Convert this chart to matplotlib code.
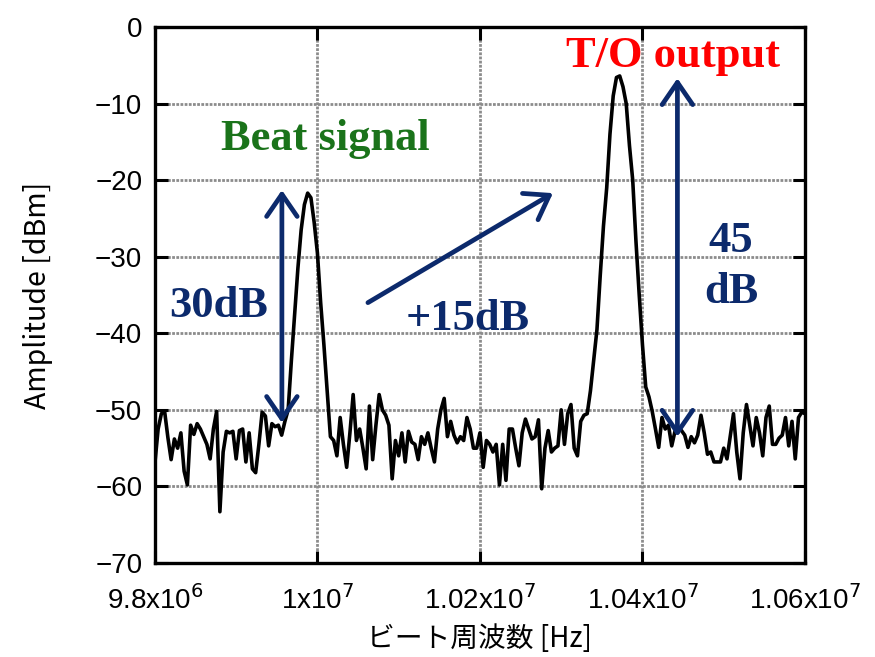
import numpy as np
import matplotlib.pyplot as plt

# spectrum: 201 bins from 9.8 MHz to 10.6 MHz (4 kHz step)
f_start = 9.8e6
f_stop = 1.06e7
amplitude = [
    -57, -52.5, -50.5, -50.2, -53.6, -56.5, -53.8, -55, -53, -58,
    -59.8, -52, -53.2, -51.8, -52.5, -53.5, -54.5, -56.4, -52.5, -50.2,
    -63.3, -55.5, -52.8, -53, -52.8, -56.4, -52.7, -52.5, -56.8, -53,
    -57.7, -58.2, -54.5, -50.3, -50.8, -54.7, -51.8, -52.2, -52, -53.3,
    -51.5, -50, -43.5, -37.5, -31.5, -26.5, -23.2, -21.7, -22.3, -25.5,
    -29.5, -36, -41.5, -47.5, -53.5, -54, -56, -51, -54.5, -57.5,
    -53, -48, -54, -52.5, -55, -57.7, -49.5, -56.5, -52, -48,
    -50, -50.7, -52, -59, -54, -56, -53, -56.8, -52.8, -54.2,
    -54.5, -56.5, -53.5, -54.5, -53, -55, -56.8, -52.5, -50, -48.5,
    -53.5, -51.5, -53.3, -54.3, -53.5, -54, -51, -52.5, -55, -55,
    -53, -57.5, -54, -54.5, -55.5, -54.5, -59.8, -54.5, -59.2, -52.5,
    -52.5, -55, -57.3, -53, -51.2, -52.5, -53.8, -53.5, -51.3, -60.3,
    -55, -52.7, -55.5, -55, -54.7, -50, -54.5, -50.5, -49.3, -55,
    -56, -51.5, -50.7, -50.5, -47.5, -43.5, -39.5, -32.5, -26, -21,
    -14, -9, -6.6, -6.4, -7.8, -10, -15.5, -20, -28, -35,
    -41.5, -47, -48.3, -50.2, -52.5, -54.9, -51, -52.5, -52, -54.7,
    -52.8, -52.3, -52.7, -53.3, -54.9, -53.5, -54.3, -53.3, -50.7, -53,
    -55.8, -55.5, -56.8, -56.8, -56.8, -55, -56.4, -53.5, -50.5, -55.5,
    -59, -53, -49.3, -52, -54.7, -51, -53, -56, -51, -49.5,
    -54.5, -54.5, -53.7, -53.3, -51, -54.7, -51.5, -56.4, -51, -50.3,
    -50.5,
]
freq = np.linspace(f_start, f_stop, len(amplitude))

xticks = [9.8e6, 1.0e7, 1.02e7, 1.04e7, 1.06e7]
xtick_labels = [r'9.8x10$^{6}$', r'1x10$^{7}$', r'1.02x10$^{7}$',
                r'1.04x10$^{7}$', r'1.06x10$^{7}$']
yticks = [0, -10, -20, -30, -40, -50, -60, -70]

navy = '#0c2a6c'
tick_font = ['Liberation Sans Narrow', 'Liberation Sans', 'DejaVu Sans']
label_font = ['Noto Sans CJK JP', 'DejaVu Sans']

fig = plt.figure(figsize=(8.75, 6.57), dpi=100)
ax = fig.add_axes([0.177, 0.143, 0.743, 0.816])

ax.plot(freq, amplitude, color='black', lw=2.6, zorder=3)

ax.set_xlim(f_start, f_stop)
ax.set_ylim(-70, 0)
ax.set_xticks(xticks)
ax.set_xticklabels(xtick_labels, family=tick_font, fontsize=20)
ax.set_yticks(yticks)
ax.set_yticklabels([str(v).replace('-', '\u2212') for v in yticks],
                   family=tick_font, fontsize=20)
ax.tick_params(direction='in', length=9, width=2.2, top=True, right=True)
ax.tick_params(axis='x', pad=16)
ax.tick_params(axis='y', pad=9)
ax.grid(True, color='#8c8c8c', ls=(0, (1, 0.5)), lw=2.0)
for s in ax.spines.values():
    s.set_linewidth(2.4)

ax.set_xlabel('ビート周波数 [Hz]', family=label_font, fontsize=20, labelpad=6)
ax.set_ylabel('Amplitude [dBm]', family=label_font, fontsize=20.5, labelpad=30)

# annotations
serif = dict(family='Liberation Serif', weight='bold', fontsize=32)
ax.text(1.00092e7, -16.1, 'Beat signal', color='#1a731a', ha='center', va='baseline', **serif)
ax.text(1.04375e7, -5.2, 'T/O output', color='#ff0000', ha='center', va='baseline', **serif)
ax.text(9.8788e6, -37.9, '30dB', color=navy, ha='center', va='baseline', **serif)
ax.text(1.01852e7, -39.6, '+15dB', color=navy, ha='center', va='baseline', **serif)
ax.text(1.05089e7, -29.4, '45', color=navy, ha='center', va='baseline', **serif)
ax.text(1.05089e7, -36.0, 'dB', color=navy, ha='center', va='baseline', **serif)

arrow_kw = dict(color=navy, lw=3.4, shrinkA=0, shrinkB=0, mutation_scale=20)
ax.annotate('', xy=(9.9563e6, -21.3), xytext=(9.9563e6, -51.7),
            arrowprops=dict(arrowstyle='<->,head_length=0.8,head_width=0.55', **arrow_kw), zorder=4)
ax.annotate('', xy=(1.0443e7, -6.7), xytext=(1.0443e7, -53.5),
            arrowprops=dict(arrowstyle='<->,head_length=0.8,head_width=0.55', **arrow_kw), zorder=4)
ax.annotate('', xy=(1.028985e7, -21.7), xytext=(1.006215e7, -36.0),
            arrowprops=dict(arrowstyle='->,head_length=0.8,head_width=0.55', **arrow_kw), zorder=4)

fig.savefig('out.png', dpi=100)
